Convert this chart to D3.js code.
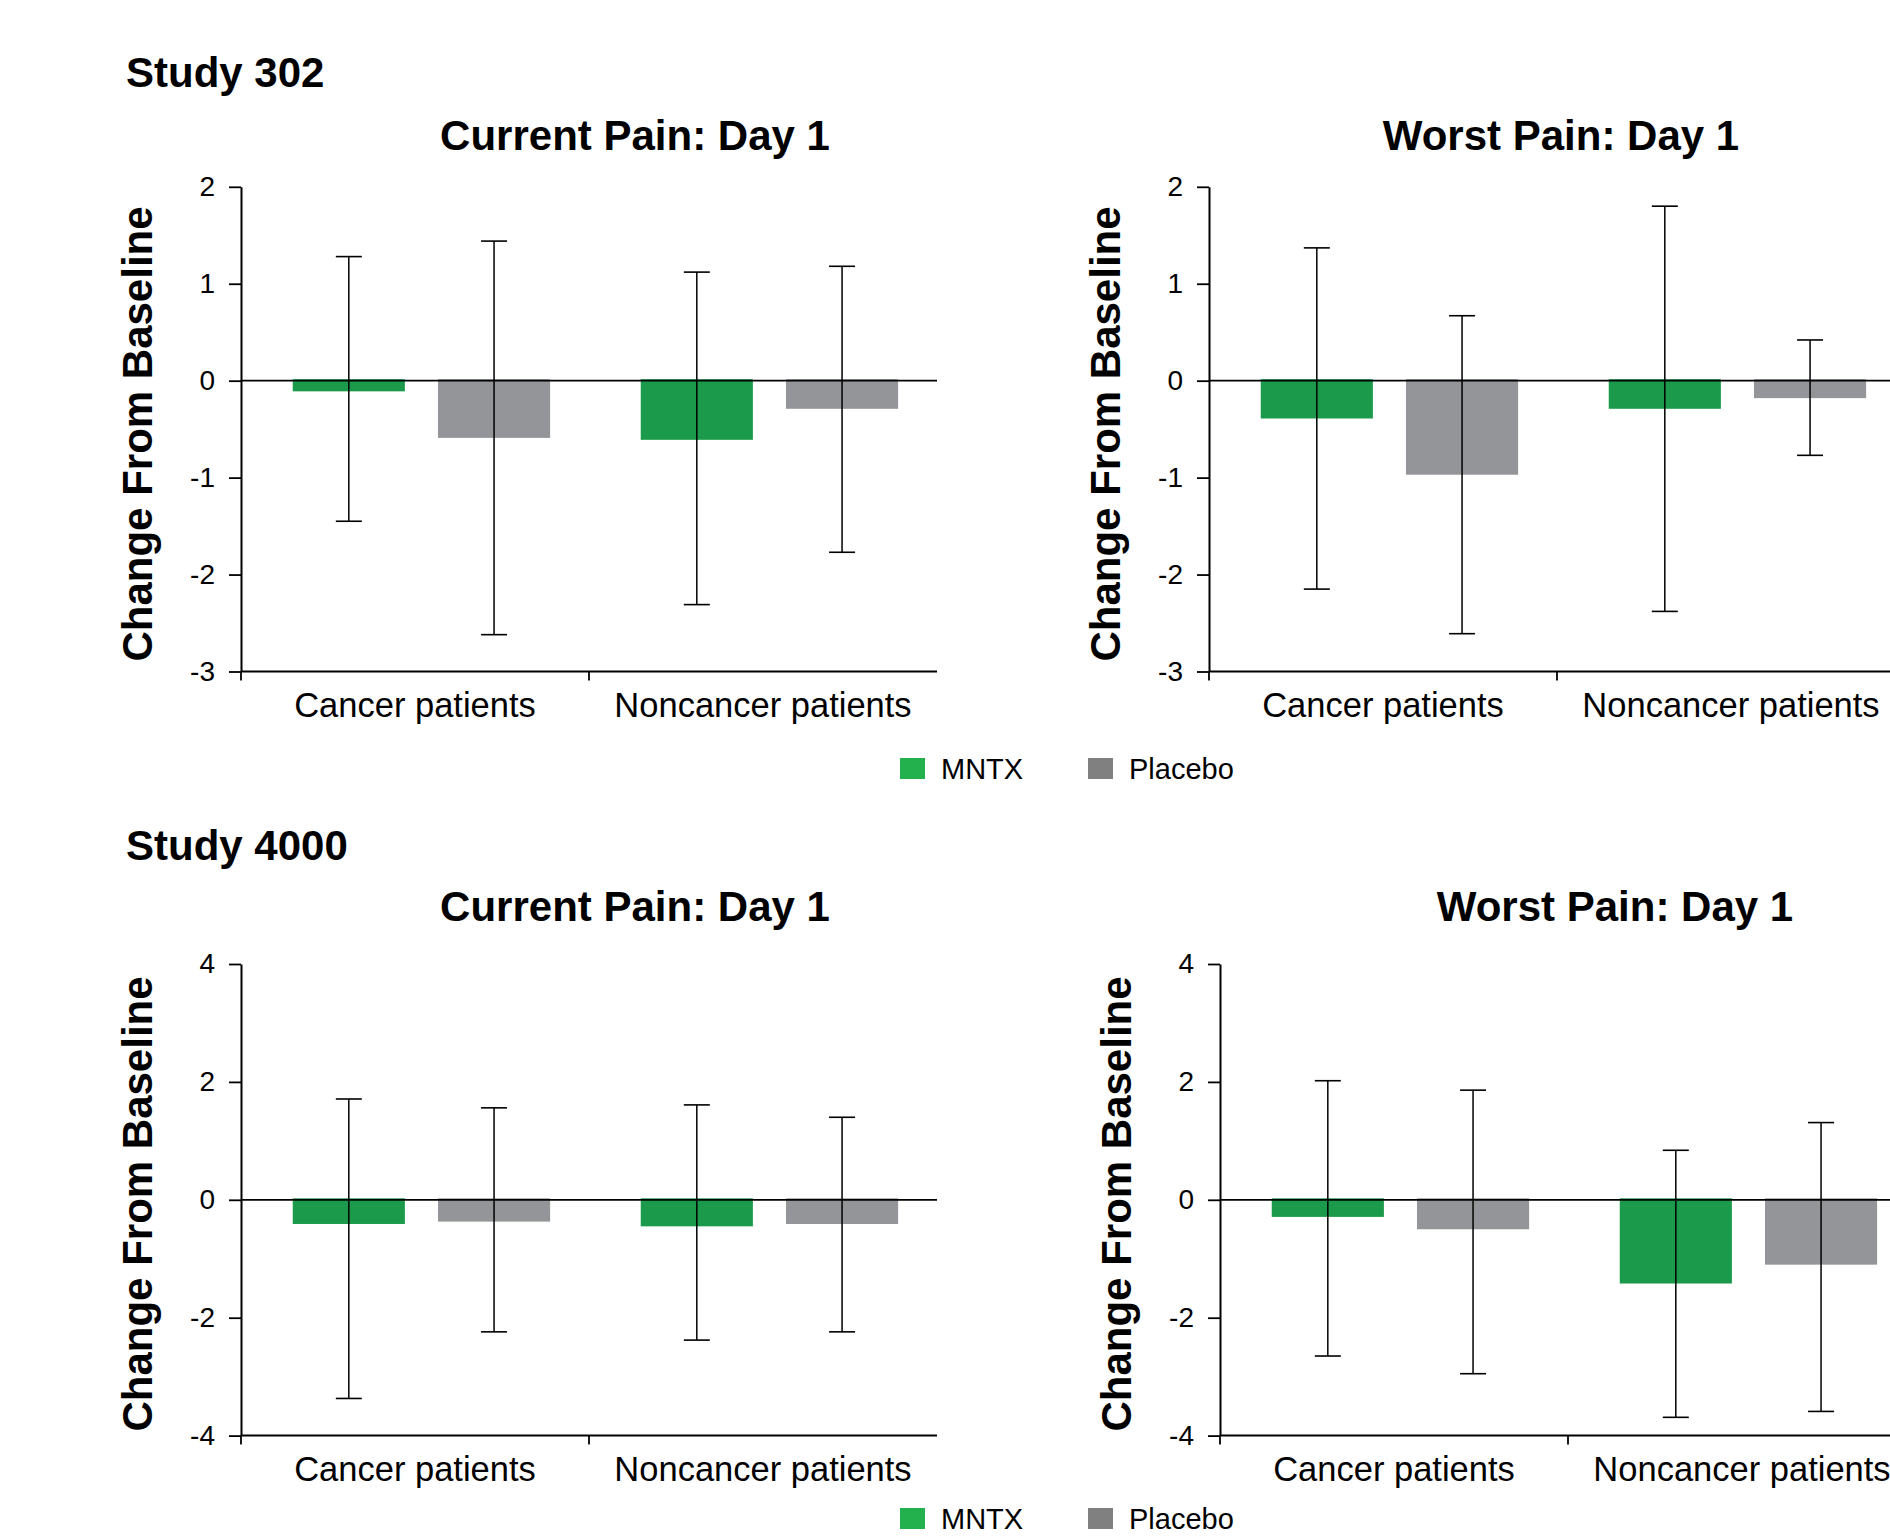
<!DOCTYPE html>
<html>
<head>
<meta charset="utf-8">
<script src="https://cdn.jsdelivr.net/npm/d3@7"></script>
<style>
  html, body { margin: 0; padding: 0; background: #ffffff; }
  svg { display: block; font-family: "Liberation Sans", Arial, Helvetica, sans-serif; }
</style>
</head>
<body>
<svg id="chart" width="1890" height="1536"></svg>
<script>
// ---- data ----
const categories = ["Cancer patients", "Noncancer patients"];
const seriesNames = ["MNTX", "Placebo"];
const studyTitles = ["Study 302", "Study 4000"];
const panelTitles = ["Current Pain: Day 1", "Worst Pain: Day 1", "Current Pain: Day 1", "Worst Pain: Day 1"];
const yAxisLabel = "Change From Baseline";
const ticksStudy302 = [-3, -2, -1, 0, 1, 2];
const ticksStudy4000 = [-4, -2, 0, 2, 4];

// order in each array: Cancer-MNTX, Cancer-Placebo, Noncancer-MNTX, Noncancer-Placebo
const s302CurrentMean  = [-0.11, -0.59, -0.61, -0.29];
const s302CurrentUpper = [1.28, 1.44, 1.12, 1.18];
const s302CurrentLower = [-1.45, -2.62, -2.31, -1.77];

const s302WorstMean  = [-0.39, -0.97, -0.29, -0.18];
const s302WorstUpper = [1.37, 0.67, 1.80, 0.42];
const s302WorstLower = [-2.15, -2.61, -2.38, -0.77];

const s4000CurrentMean  = [-0.41, -0.37, -0.45, -0.41];
const s4000CurrentUpper = [1.71, 1.56, 1.61, 1.40];
const s4000CurrentLower = [-3.37, -2.24, -2.38, -2.24];

const s4000WorstMean  = [-0.29, -0.50, -1.42, -1.10];
const s4000WorstUpper = [2.02, 1.86, 0.84, 1.31];
const s4000WorstLower = [-2.65, -2.95, -3.69, -3.59];

// ---- style ----
const barColors = { "MNTX": "#1a9a4a", "Placebo": "#939598" };
const legendColors = { "MNTX": "#22b14c", "Placebo": "#808080" };

const svg = d3.select("#chart");

const panels = [
  { left: 241,  top: 186.8, bottom: 671.5,  domain: [-3, 2], ticks: ticksStudy302,  title: panelTitles[0], titleX: 635,  titleY: 149.5, labelX: 151.5, labelY: 434,
    mean: s302CurrentMean, upper: s302CurrentUpper, lower: s302CurrentLower },
  { left: 1209, top: 186.8, bottom: 671.5,  domain: [-3, 2], ticks: ticksStudy302,  title: panelTitles[1], titleX: 1561, titleY: 149.5, labelX: 1120, labelY: 434,
    mean: s302WorstMean, upper: s302WorstUpper, lower: s302WorstLower },
  { left: 241,  top: 964,   bottom: 1435.6, domain: [-4, 4], ticks: ticksStudy4000, title: panelTitles[2], titleX: 635,  titleY: 921,   labelX: 151.5, labelY: 1204,
    mean: s4000CurrentMean, upper: s4000CurrentUpper, lower: s4000CurrentLower },
  { left: 1220, top: 964,   bottom: 1435.6, domain: [-4, 4], ticks: ticksStudy4000, title: panelTitles[3], titleX: 1615, titleY: 921,   labelX: 1131, labelY: 1204,
    mean: s4000WorstMean, upper: s4000WorstUpper, lower: s4000WorstLower }
];

const plotW = 696;

// study headings
svg.append("text").attr("x", 126).attr("y", 87).attr("font-size", 42).attr("font-weight", "bold").attr("fill", "#000").text(studyTitles[0]);
svg.append("text").attr("x", 126).attr("y", 860).attr("font-size", 42).attr("font-weight", "bold").attr("fill", "#000").text(studyTitles[1]);

panels.forEach(p => {
  const g = svg.append("g");
  const y = d3.scaleLinear().domain(p.domain).range([p.bottom, p.top]);
  const x0 = d3.scaleBand().domain(categories).range([p.left, p.left + plotW]).paddingInner(0).paddingOuter(0);
  const x1 = d3.scaleBand().domain(seriesNames).range([0, x0.bandwidth()])
    .paddingInner(0.228).paddingOuter(0.312).align(0.571);

  const rows = [];
  categories.forEach((c, ci) => {
    seriesNames.forEach((s, si) => {
      const k = ci * seriesNames.length + si;
      rows.push({ cat: c, ser: s, mean: p.mean[k], hi: p.upper[k], lo: p.lower[k] });
    });
  });

  // bars
  g.selectAll("rect.bar").data(rows).enter().append("rect")
    .attr("class", "bar")
    .attr("x", d => x0(d.cat) + x1(d.ser))
    .attr("width", x1.bandwidth())
    .attr("y", d => Math.min(y(0), y(d.mean)) - 1.5)
    .attr("height", d => Math.abs(y(d.mean) - y(0)) + 1.5)
    .attr("fill", d => barColors[d.ser]);

  // zero line
  g.append("line")
    .attr("x1", p.left).attr("x2", p.left + plotW)
    .attr("y1", y(0)).attr("y2", y(0))
    .attr("stroke", "#000").attr("stroke-width", 1.8);

  // error bars
  const capW = 26;
  const eb = g.selectAll("g.err").data(rows).enter().append("g").attr("class", "err");
  eb.append("line")
    .attr("x1", d => x0(d.cat) + x1(d.ser) + x1.bandwidth() / 2)
    .attr("x2", d => x0(d.cat) + x1(d.ser) + x1.bandwidth() / 2)
    .attr("y1", d => y(d.hi)).attr("y2", d => y(d.lo))
    .attr("stroke", "#000").attr("stroke-width", 1.5);
  eb.append("line")
    .attr("x1", d => x0(d.cat) + x1(d.ser) + x1.bandwidth() / 2 - capW / 2)
    .attr("x2", d => x0(d.cat) + x1(d.ser) + x1.bandwidth() / 2 + capW / 2)
    .attr("y1", d => y(d.hi)).attr("y2", d => y(d.hi))
    .attr("stroke", "#000").attr("stroke-width", 1.6);
  eb.append("line")
    .attr("x1", d => x0(d.cat) + x1(d.ser) + x1.bandwidth() / 2 - capW / 2)
    .attr("x2", d => x0(d.cat) + x1(d.ser) + x1.bandwidth() / 2 + capW / 2)
    .attr("y1", d => y(d.lo)).attr("y2", d => y(d.lo))
    .attr("stroke", "#000").attr("stroke-width", 1.6);

  // y axis
  const yAxis = d3.axisLeft(y).tickValues(p.ticks).tickSize(12).tickSizeOuter(0).tickPadding(14)
    .tickFormat(d => String(d));
  const ya = g.append("g").attr("transform", `translate(${p.left},0)`).call(yAxis);
  ya.select(".domain").attr("stroke", "#000").attr("stroke-width", 2);
  ya.selectAll(".tick line").attr("stroke", "#000").attr("stroke-width", 1.8);
  ya.selectAll(".tick text").attr("font-size", 28).attr("fill", "#000")
    .attr("font-family", "\"Liberation Sans\", Arial, sans-serif");

  // x axis line
  g.append("line")
    .attr("x1", p.left).attr("x2", p.left + plotW)
    .attr("y1", p.bottom).attr("y2", p.bottom)
    .attr("stroke", "#000").attr("stroke-width", 2);
  // x ticks at band boundaries
  g.selectAll("line.xtick").data(categories).enter().append("line")
    .attr("class", "xtick")
    .attr("x1", d => x0(d)).attr("x2", d => x0(d))
    .attr("y1", p.bottom).attr("y2", p.bottom + 9)
    .attr("stroke", "#000").attr("stroke-width", 1.8);
  // category labels
  g.selectAll("text.cat").data(categories).enter().append("text")
    .attr("class", "cat")
    .attr("x", d => x0(d) + x0.bandwidth() / 2)
    .attr("y", p.bottom + 45)
    .attr("text-anchor", "middle")
    .attr("font-size", 34.5)
    .attr("fill", "#000")
    .text(d => d);

  // panel title
  g.append("text")
    .attr("x", p.titleX).attr("y", p.titleY)
    .attr("text-anchor", "middle")
    .attr("font-size", 42).attr("font-weight", "bold").attr("fill", "#000")
    .text(p.title);

  // y label
  g.append("text")
    .attr("transform", `translate(${p.labelX},${p.labelY}) rotate(-90)`)
    .attr("text-anchor", "middle")
    .attr("font-size", 42).attr("font-weight", "bold").attr("fill", "#000")
    .text(yAxisLabel);
});

// legends (the lower one sits right at the bottom edge, as in the original)
[758, 1508].forEach(ly => {
  const lg = svg.append("g");
  const xs = [900, 1088];
  seriesNames.forEach((s, i) => {
    lg.append("rect").attr("x", xs[i]).attr("y", ly).attr("width", 25).attr("height", 21)
      .attr("fill", legendColors[s]);
    lg.append("text").attr("x", xs[i] + 41).attr("y", ly + 20.5)
      .attr("font-size", 29).attr("fill", "#000").text(s);
  });
});
</script>
</body>
</html>
